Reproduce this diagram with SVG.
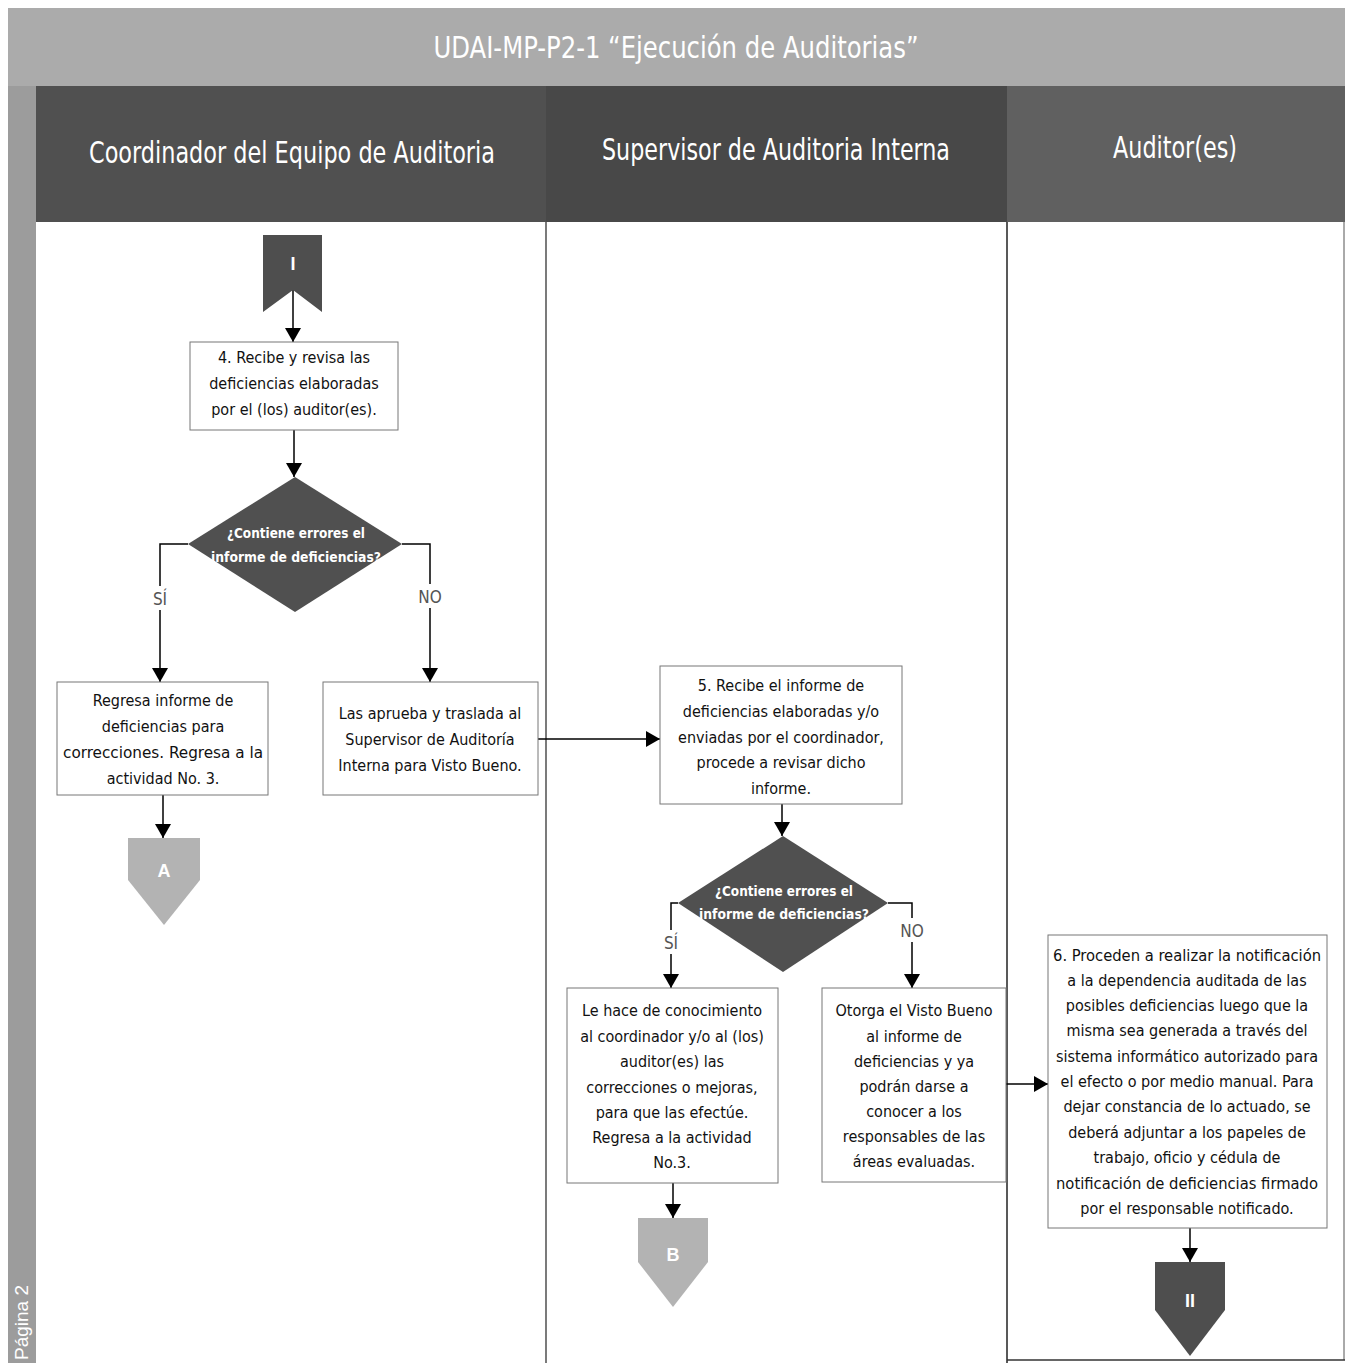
<svg xmlns="http://www.w3.org/2000/svg" width="1354" height="1363" viewBox="0 0 1354 1363">
<style>
.t{font-family:"Liberation Sans Narrow","DejaVu Sans Condensed","Liberation Sans",sans-serif;font-size:16px;fill:#111;text-anchor:middle}
.h{font-family:"Liberation Sans Narrow","DejaVu Sans Condensed","Liberation Sans",sans-serif;font-size:30px;fill:#fff;text-anchor:middle}
.d{font-family:"Liberation Sans Narrow","DejaVu Sans Condensed","Liberation Sans",sans-serif;font-size:14px;font-weight:bold;fill:#fff;text-anchor:middle}
.l{font-family:"Liberation Sans Narrow","DejaVu Sans Condensed","Liberation Sans",sans-serif;font-size:17px;fill:#555;text-anchor:middle}
.box{fill:#fff;stroke:#777;stroke-width:1}
.c{stroke:#000;stroke-width:1.5;fill:none}
.ct{font-family:"Liberation Sans","DejaVu Sans",sans-serif;font-size:18px;font-weight:bold;fill:#fff;text-anchor:middle}
</style>
<defs>
<marker id="ar" viewBox="0 0 14 16" refX="14" refY="8" markerWidth="14" markerHeight="16" markerUnits="userSpaceOnUse" orient="auto">
<path d="M0,0 L14,8 L0,16 Z" fill="#000"/>
</marker>
</defs>
<rect x="0" y="0" width="1354" height="1363" fill="#fff"/>
<g id="frame">
<rect x="8" y="8" width="1337" height="78" fill="#ababab"/>
<text x="676" y="58" class="h" font-size="29" textLength="485" lengthAdjust="spacingAndGlyphs">UDAI-MP-P2-1 “Ejecución de Auditorias”</text>
<rect x="8" y="86" width="28" height="1277" fill="#9c9c9c"/>
<text transform="translate(28,1360) rotate(-90)" font-family="Liberation Sans,sans-serif" font-size="19" fill="#fff">Página 2</text>
<rect x="36" y="86" width="510" height="136" fill="#505050"/>
<rect x="546" y="86" width="461" height="136" fill="#484848"/>
<rect x="1007" y="86" width="338" height="136" fill="#606060"/>
<text x="292" y="163" class="h" textLength="406" lengthAdjust="spacingAndGlyphs">Coordinador del Equipo de Auditoria</text>
<text x="776" y="160" class="h" textLength="348" lengthAdjust="spacingAndGlyphs">Supervisor de Auditoria Interna</text>
<text x="1175" y="158" class="h" textLength="124" lengthAdjust="spacingAndGlyphs">Auditor(es)</text>
<line x1="546" y1="222" x2="546" y2="1363" stroke="#222" stroke-width="1.2"/>
<line x1="1007" y1="222" x2="1007" y2="1363" stroke="#222" stroke-width="1.5"/>
<line x1="1344" y1="222" x2="1344" y2="1360" stroke="#555" stroke-width="1"/>
<line x1="1007" y1="1360" x2="1345" y2="1360" stroke="#333" stroke-width="1.5"/>
</g>
<g id="connectors">
<line class="c" x1="293" y1="290" x2="293" y2="342" marker-end="url(#ar)"/>
<line class="c" x1="294" y1="430" x2="294" y2="477" marker-end="url(#ar)"/>
<polyline class="c" points="188,544 160,544 160,682" marker-end="url(#ar)"/>
<polyline class="c" points="402,544 430,544 430,682" marker-end="url(#ar)"/>
<line class="c" x1="163" y1="795" x2="163" y2="838" marker-end="url(#ar)"/>
<line class="c" x1="538" y1="739" x2="660" y2="739" marker-end="url(#ar)"/>
<line class="c" x1="782" y1="804" x2="782" y2="836" marker-end="url(#ar)"/>
<polyline class="c" points="678,903 671,903 671,988" marker-end="url(#ar)"/>
<polyline class="c" points="888,903 912,903 912,988" marker-end="url(#ar)"/>
<line class="c" x1="673" y1="1183" x2="673" y2="1218" marker-end="url(#ar)"/>
<line class="c" x1="1006" y1="1084" x2="1048" y2="1084" marker-end="url(#ar)"/>
<line class="c" x1="1190" y1="1228" x2="1190" y2="1262" marker-end="url(#ar)"/>
<rect x="150" y="586" width="20" height="24" fill="#fff"/>
<text x="160" y="605" class="l">SÍ</text>
<rect x="416" y="584" width="28" height="24" fill="#fff"/>
<text x="430" y="603" class="l">NO</text>
<rect x="661" y="930" width="20" height="24" fill="#fff"/>
<text x="671" y="949" class="l">SÍ</text>
<rect x="898" y="918" width="28" height="24" fill="#fff"/>
<text x="912" y="937" class="l">NO</text>
</g>
<g id="start-I">
<path d="M263,235 H322 V312 L293,290 L263,312 Z" fill="#4e4e4e"/>
<text x="293" y="270" class="ct">I</text>
</g>
<g id="step4">
<rect class="box" x="190" y="342" width="208" height="88"/>
<text class="t" x="294" y="363">4. Recibe y revisa las</text>
<text class="t" x="294" y="389">deficiencias elaboradas</text>
<text class="t" x="294" y="415">por el (los) auditor(es).</text>
</g>
<g id="decision1">
<polygon points="295,477 402,544 295,612 188,544" fill="#505050"/>
<text class="d" x="296" y="538" textLength="138" lengthAdjust="spacingAndGlyphs">¿Contiene errores el</text>
<text class="d" x="296" y="562" textLength="170" lengthAdjust="spacingAndGlyphs">informe de deficiencias?</text>
</g>
<g id="regresa">
<rect class="box" x="57" y="682" width="211" height="113"/>
<text class="t" x="163" y="706">Regresa informe de</text>
<text class="t" x="163" y="732">deficiencias para</text>
<text class="t" x="163" y="758" textLength="200" lengthAdjust="spacingAndGlyphs">correcciones. Regresa a la</text>
<text class="t" x="163" y="784">actividad No. 3.</text>
</g>
<g id="connector-A">
<path d="M128,838 H200 V880 L164,925 L128,880 Z" fill="#b3b3b3"/>
<text x="164" y="877" class="ct" font-size="16">A</text>
</g>
<g id="aprueba">
<rect class="box" x="323" y="682" width="215" height="113"/>
<text class="t" x="430" y="719">Las aprueba y traslada al</text>
<text class="t" x="430" y="745">Supervisor de Auditoría</text>
<text class="t" x="430" y="771">Interna para Visto Bueno.</text>
</g>
<g id="step5">
<rect class="box" x="660" y="666" width="242" height="138"/>
<text class="t" x="781" y="691">5. Recibe el informe de</text>
<text class="t" x="781" y="717">deficiencias elaboradas y/o</text>
<text class="t" x="781" y="743">enviadas por el coordinador,</text>
<text class="t" x="781" y="768">procede a revisar dicho</text>
<text class="t" x="781" y="794">informe.</text>
</g>
<g id="decision2">
<polygon points="783,836 888,903 783,972 678,903" fill="#505050"/>
<text class="d" x="784" y="896" textLength="138" lengthAdjust="spacingAndGlyphs">¿Contiene errores el</text>
<text class="d" x="784" y="919" textLength="170" lengthAdjust="spacingAndGlyphs">informe de deficiencias?</text>
</g>
<g id="lehace">
<rect class="box" x="567" y="988" width="211" height="195"/>
<text class="t" x="672" y="1016">Le hace de conocimiento</text>
<text class="t" x="672" y="1042">al coordinador y/o al (los)</text>
<text class="t" x="672" y="1067">auditor(es) las</text>
<text class="t" x="672" y="1093">correcciones o mejoras,</text>
<text class="t" x="672" y="1118">para que las efectúe.</text>
<text class="t" x="672" y="1143">Regresa a la actividad</text>
<text class="t" x="672" y="1168">No.3.</text>
</g>
<g id="connector-B">
<path d="M638,1218 H708 V1262 L673,1307 L638,1262 Z" fill="#b3b3b3"/>
<text x="673" y="1261" class="ct" font-size="16">B</text>
</g>
<g id="otorga">
<rect class="box" x="822" y="988" width="184" height="194"/>
<text class="t" x="914" y="1016">Otorga el Visto Bueno</text>
<text class="t" x="914" y="1042">al informe de</text>
<text class="t" x="914" y="1067">deficiencias y ya</text>
<text class="t" x="914" y="1092">podrán darse a</text>
<text class="t" x="914" y="1117">conocer a los</text>
<text class="t" x="914" y="1142">responsables de las</text>
<text class="t" x="914" y="1167">áreas evaluadas.</text>
</g>
<g id="step6">
<rect class="box" x="1048" y="935" width="279" height="293"/>
<text class="t" x="1187" y="961" textLength="268" lengthAdjust="spacingAndGlyphs">6. Proceden a realizar la notificación</text>
<text class="t" x="1187" y="986">a la dependencia auditada de las</text>
<text class="t" x="1187" y="1011">posibles deficiencias luego que la</text>
<text class="t" x="1187" y="1036">misma sea generada a través del</text>
<text class="t" x="1187" y="1062" textLength="262" lengthAdjust="spacingAndGlyphs">sistema informático autorizado para</text>
<text class="t" x="1187" y="1087">el efecto o por medio manual. Para</text>
<text class="t" x="1187" y="1112">dejar constancia de lo actuado, se</text>
<text class="t" x="1187" y="1138">deberá adjuntar a los papeles de</text>
<text class="t" x="1187" y="1163">trabajo, oficio y cédula de</text>
<text class="t" x="1187" y="1189" textLength="262" lengthAdjust="spacingAndGlyphs">notificación de deficiencias firmado</text>
<text class="t" x="1187" y="1214">por el responsable notificado.</text>
</g>
<g id="connector-II">
<path d="M1155,1262 H1225 V1310 L1190,1356 L1155,1310 Z" fill="#4e4e4e"/>
<text x="1190" y="1307" class="ct">II</text>
</g>
</svg>
